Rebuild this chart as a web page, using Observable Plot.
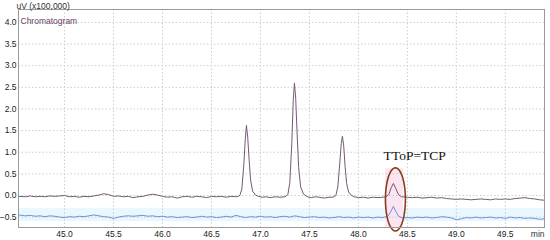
<!DOCTYPE html>
<html>
<head>
<meta charset="utf-8">
<script src="https://cdn.jsdelivr.net/npm/d3@7"></script>
<script src="https://cdn.jsdelivr.net/npm/@observablehq/plot@0.6"></script>
<style>
  body { margin: 0; background: #fff; }
  svg { display: block; }
</style>
</head>
<body>
<script>
// ---- Data ----
const purpleTime = [44.53,44.60,44.65,44.70,44.75,44.80,44.85,44.90,44.95,45.00,45.05,45.10,45.15,45.20,45.25,45.30,45.35,45.40,45.45,45.50,45.55,45.60,45.65,45.70,45.75,45.80,45.85,45.90,45.95,46.00,46.05,46.10,46.15,46.20,46.25,46.30,46.35,46.40,46.45,46.50,46.55,46.60,46.65,46.70,46.76,46.79,46.81,46.83,46.845,46.857,46.87,46.885,46.90,46.92,46.95,46.98,47.02,47.06,47.10,47.15,47.20,47.25,47.28,47.30,47.32,47.335,47.347,47.36,47.375,47.39,47.41,47.44,47.48,47.52,47.56,47.60,47.65,47.70,47.74,47.77,47.79,47.81,47.825,47.837,47.85,47.865,47.88,47.90,47.93,47.96,48.00,48.05,48.10,48.15,48.20,48.25,48.28,48.31,48.335,48.357,48.38,48.41,48.44,48.50,48.55,48.60,48.65,48.70,48.75,48.80,48.85,48.90,48.95,49.00,49.05,49.10,49.15,49.20,49.25,49.30,49.35,49.40,49.45,49.50,49.55,49.60,49.65,49.70,49.75,49.80,49.85,49.90];
const purpleValue = [-0.02,-0.03,-0.01,-0.03,-0.02,-0.03,-0.01,-0.02,-0.01,0.00,-0.03,-0.02,-0.04,-0.02,-0.03,-0.01,0.01,0.04,0.02,-0.02,-0.01,-0.03,-0.02,-0.05,-0.03,-0.02,0.01,0.03,0.01,-0.02,-0.04,-0.03,-0.06,-0.03,-0.02,-0.04,-0.02,-0.03,-0.05,-0.02,-0.03,-0.02,-0.04,-0.02,-0.03,0.00,0.15,0.70,1.30,1.62,1.35,0.80,0.35,0.10,0.01,-0.02,-0.04,-0.03,-0.05,-0.03,-0.04,-0.03,0.02,0.30,1.20,2.20,2.60,2.25,1.40,0.65,0.20,0.03,-0.03,-0.05,-0.03,-0.04,-0.06,-0.04,-0.04,0.00,0.20,0.75,1.20,1.37,1.15,0.65,0.28,0.08,0.00,-0.03,-0.05,-0.04,-0.06,-0.04,-0.05,-0.04,-0.03,0.02,0.18,0.28,0.17,0.02,-0.03,-0.04,-0.05,-0.04,-0.06,-0.05,-0.04,-0.06,-0.05,-0.07,-0.08,-0.09,-0.08,-0.09,-0.10,-0.09,-0.08,-0.09,-0.10,-0.08,-0.09,-0.08,-0.09,-0.07,-0.06,-0.05,-0.07,-0.08,-0.10,-0.11];

const blueTime = [44.53,44.60,44.65,44.70,44.75,44.80,44.85,44.90,44.95,45.00,45.05,45.10,45.15,45.20,45.25,45.30,45.35,45.40,45.45,45.50,45.55,45.60,45.65,45.70,45.75,45.80,45.85,45.90,45.95,46.00,46.05,46.10,46.15,46.20,46.25,46.30,46.35,46.40,46.45,46.50,46.55,46.60,46.65,46.70,46.75,46.80,46.85,46.90,46.95,47.00,47.05,47.10,47.15,47.20,47.25,47.30,47.35,47.40,47.45,47.50,47.55,47.60,47.65,47.70,47.75,47.80,47.85,47.90,47.95,48.00,48.05,48.10,48.15,48.20,48.25,48.30,48.33,48.357,48.38,48.41,48.45,48.50,48.55,48.60,48.65,48.70,48.75,48.80,48.85,48.90,48.95,49.00,49.05,49.10,49.15,49.20,49.25,49.30,49.35,49.40,49.45,49.50,49.55,49.60,49.65,49.70,49.75,49.80,49.85,49.90];
const blueValue = [-0.45,-0.47,-0.46,-0.48,-0.47,-0.49,-0.47,-0.48,-0.50,-0.51,-0.49,-0.50,-0.48,-0.49,-0.47,-0.45,-0.47,-0.49,-0.50,-0.53,-0.50,-0.48,-0.47,-0.48,-0.47,-0.46,-0.48,-0.47,-0.49,-0.48,-0.50,-0.49,-0.51,-0.50,-0.49,-0.51,-0.50,-0.48,-0.50,-0.49,-0.51,-0.50,-0.48,-0.50,-0.46,-0.49,-0.51,-0.49,-0.50,-0.48,-0.50,-0.49,-0.51,-0.49,-0.48,-0.50,-0.47,-0.49,-0.51,-0.50,-0.49,-0.51,-0.50,-0.52,-0.51,-0.49,-0.51,-0.50,-0.52,-0.50,-0.51,-0.50,-0.52,-0.50,-0.51,-0.48,-0.38,-0.25,-0.36,-0.48,-0.52,-0.51,-0.52,-0.50,-0.51,-0.50,-0.52,-0.51,-0.49,-0.50,-0.52,-0.56,-0.54,-0.51,-0.52,-0.50,-0.52,-0.51,-0.50,-0.52,-0.51,-0.53,-0.50,-0.52,-0.51,-0.53,-0.52,-0.53,-0.55,-0.54];

const xTicks = [45.0,45.5,46.0,46.5,47.0,47.5,48.0,48.5,49.0,49.5];
const yTicks = [-0.5,0.0,0.5,1.0,1.5,2.0,2.5,3.0,3.5,4.0];
const xDomain = [44.53, 49.9];
const yDomain = [-0.74, 4.3];

const yUnitLabel = "uV (x100,000)";
const xUnitLabel = "min";
const seriesLabel = "Chromatogram";
const annotationText = "TToP=TCP";
const annotationPos = [48.575, 0.93];
// highlighted peak region (time range, signal range)
const highlightTime = [48.28, 48.46];
const highlightValue = [-0.74, 0.62];
// light band behind the lower trace
const bandValue = [-0.60, -0.30];
// ellipse around the small peak: center time, center value, half-width (min), half-height (signal)
const ellipseCenter = [48.378, -0.09];
const ellipseRadius = [0.102, 0.73];

// ---- build tables ----
const purple = purpleTime.map((t, i) => ({t, v: purpleValue[i]}));
const blue = blueTime.map((t, i) => ({t, v: blueValue[i]}));
const ellipse = d3.range(0, 73).map(k => {
  const a = (k / 72) * 2 * Math.PI;
  return {t: ellipseCenter[0] + ellipseRadius[0] * Math.cos(a), v: ellipseCenter[1] + ellipseRadius[1] * Math.sin(a)};
});

const chart = Plot.plot({
  width: 550,
  height: 240,
  marginLeft: 18,
  marginRight: 6,
  marginTop: 9,
  marginBottom: 13,
  style: {fontFamily: "'Liberation Sans', Arial, sans-serif", fontSize: "8.5px", color: "#222", background: "#fff"},
  x: {domain: xDomain, ticks: xTicks, tickFormat: d3.format(".1f"), tickSize: 0, tickPadding: 3, label: null},
  y: {domain: yDomain, ticks: yTicks, tickFormat: d3.format(".1f"), tickSize: 0, tickPadding: 2, label: null},
  marks: [
    Plot.rect([{}], {x1: xDomain[0], x2: xDomain[1], y1: bandValue[0], y2: bandValue[1], fill: "#e9f8fc"}),
    Plot.rect([{}], {x1: highlightTime[0], x2: highlightTime[1], y1: highlightValue[0], y2: highlightValue[1], fill: "#fce4f0"}),
    Plot.gridX(xTicks, {stroke: "#cdcdcd", strokeOpacity: 1, strokeDasharray: "1.5,2"}),
    Plot.gridY(yTicks, {stroke: "#cdcdcd", strokeOpacity: 1, strokeDasharray: "1.5,2"}),
    Plot.line(blue, {x: "t", y: "v", stroke: "#6d8fe3", strokeWidth: 1}),
    Plot.line(purple, {x: "t", y: "v", stroke: "#735a74", strokeWidth: 1}),
    Plot.line(ellipse, {x: "t", y: "v", stroke: "#8a3d1c", strokeWidth: 1.6, curve: "linear"}),
    Plot.frame({stroke: "#9a9a9a", strokeWidth: 1}),
    Plot.text([seriesLabel], {frameAnchor: "top-left", dx: 2, dy: 8, text: d => d, fill: "#6a3d6a", textAnchor: "start", fontSize: 8.5}),
    Plot.text([yUnitLabel], {frameAnchor: "top-left", dx: -2, dy: -1, text: d => d, lineAnchor: "bottom", textAnchor: "start", fill: "#333", fontSize: 8.5}),
    Plot.text([xUnitLabel], {frameAnchor: "bottom-right", dx: 0, dy: 3, text: d => d, lineAnchor: "top", textAnchor: "end", fill: "#333", fontSize: 8.5}),
    Plot.text([annotationText], {x: () => annotationPos[0], y: () => annotationPos[1], text: d => d, fontFamily: "'Liberation Serif', 'Times New Roman', serif", fontSize: 13.5, fill: "#111"})
  ]
});
document.body.appendChild(chart);
</script>
</body>
</html>
